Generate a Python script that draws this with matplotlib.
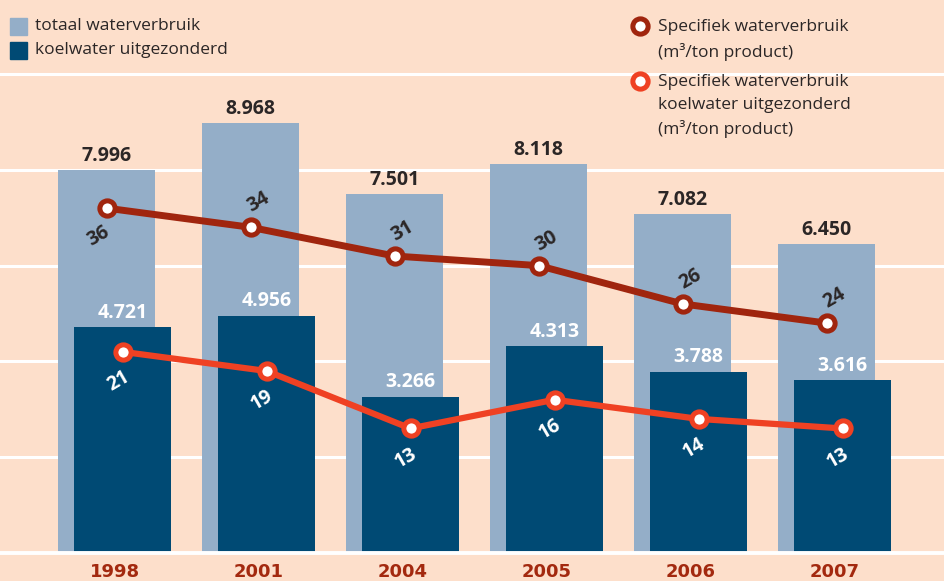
import matplotlib.pyplot as plt
import numpy as np

plt.rcParams['font.family'] = ['Open Sans', 'DejaVu Sans']

# data
years = ['1998', '2001', '2004', '2005', '2006', '2007']
totaal = [7996, 8968, 7501, 8118, 7082, 6450]
koel_uit = [4721, 4956, 3266, 4313, 3788, 3616]
spec_totaal = [36, 34, 31, 30, 26, 24]
spec_koel_uit = [21, 19, 13, 16, 14, 13]

totaal_labels = ['7.996', '8.968', '7.501', '8.118', '7.082', '6.450']
koel_labels = ['4.721', '4.956', '3.266', '4.313', '3.788', '3.616']

bg = '#fddfcb'
light_blue = '#94aec8'
dark_blue = '#004a74'
dark_red = '#a0250e'
orange = '#ef4123'
year_col = '#a3290f'
txt_col = '#2b2626'

fig = plt.figure(figsize=(9.44, 5.81), dpi=100, facecolor=bg)
ax = fig.add_axes([0, 28 / 581, 1, 553 / 581])
ax.set_facecolor(bg)

x = np.arange(len(years))
w = 97 / 144
off = 8 / 144

ax.set_xlim(-114.5 / 144, (944 - 114.5) / 144)
ymax = 553 / 0.0479
ax.set_ylim(0, ymax)

# white gridlines
for g in [2000, 4000, 6000, 8000, 10000]:
    ax.axhline(g, color='white', lw=2.2, zorder=1)
ax.axhline(0, color='white', lw=2.8, zorder=4, clip_on=False)

ax.bar(x - off, totaal, w, color=light_blue, zorder=2)
ax.bar(x + off, koel_uit, w, color=dark_blue, zorder=3)

for xi, v, lab in zip(x, totaal, totaal_labels):
    ax.annotate(lab, (xi - off, v), xytext=(0, 3), textcoords='offset points',
                ha='center', va='bottom', fontsize=14, fontweight='bold',
                color=txt_col, zorder=6)
for xi, v, lab in zip(x, koel_uit, koel_labels):
    ax.annotate(lab, (xi + off, v), xytext=(0, 3), textcoords='offset points',
                ha='center', va='bottom', fontsize=14, fontweight='bold',
                color='white', zorder=6)

for xi, lab in zip(x, years):
    ax.annotate(lab, (xi, 0), xytext=(0, -14), textcoords='offset points',
                ha='center', va='center', fontsize=13, fontweight='bold',
                color=year_col, family=['DejaVu Sans'],
                annotation_clip=False)

ax.set_xticks([])
ax.set_yticks([])
for s in ax.spines.values():
    s.set_visible(False)

# lines on twin axis (scale 1:200 relative to bars)
ax2 = ax.twinx()
ax2.set_ylim(0, ymax / 200)
ax2.set_xlim(ax.get_xlim())
ax2.axis('off')

ax2.plot(x - off, spec_totaal, color=dark_red, lw=5, marker='o', ms=11,
         mew=3.6, mfc='white', mec=dark_red, zorder=5)
ax2.plot(x + off, spec_koel_uit, color=orange, lw=4.5, marker='o', ms=11,
         mew=3.6, mfc='white', mec=orange, zorder=5)

for i, (xi, v) in enumerate(zip(x, spec_totaal)):
    dx, dy = (-6, -20) if i == 0 else (6, 18)
    ax2.annotate(str(v), (xi - off, v), xytext=(dx, dy), textcoords='offset points',
                 ha='center', va='center', fontsize=14, fontweight='bold',
                 color=txt_col, rotation=30, zorder=7)
for xi, v in zip(x, spec_koel_uit):
    ax2.annotate(str(v), (xi + off, v), xytext=(-3, -21), textcoords='offset points',
                 ha='center', va='center', fontsize=14, fontweight='bold',
                 color='white', rotation=30, zorder=7)

# legends
fig.patches.append(plt.Rectangle((10 / 944, 1 - 35 / 581), 17 / 944, 17 / 581,
                                 transform=fig.transFigure, color=light_blue))
fig.patches.append(plt.Rectangle((10 / 944, 1 - 59 / 581), 17 / 944, 17 / 581,
                                 transform=fig.transFigure, color=dark_blue))
fig.text(35 / 944, 1 - 26 / 581, 'totaal waterverbruik', fontsize=12.5,
         color=txt_col, va='center')
fig.text(35 / 944, 1 - 50 / 581, 'koelwater uitgezonderd', fontsize=12.5,
         color=txt_col, va='center')

fig.add_artist(plt.Line2D([640 / 944], [1 - 26 / 581], marker='o', ms=11,
                          mew=3.6, mfc='white', mec=dark_red,
                          transform=fig.transFigure))
fig.add_artist(plt.Line2D([640 / 944], [1 - 81 / 581], marker='o', ms=11,
                          mew=3.6, mfc='white', mec=orange,
                          transform=fig.transFigure))
fig.text(658 / 944, 1 - 19 / 581, 'Specifiek waterverbruik\n(m³/ton product)',
         fontsize=12.5, color=txt_col, va='top', linespacing=1.55)
fig.text(658 / 944, 1 - 74 / 581,
         'Specifiek waterverbruik\nkoelwater uitgezonderd\n(m³/ton product)',
         fontsize=12.5, color=txt_col, va='top', linespacing=1.55)

fig.savefig('out.png', dpi=100, facecolor=bg)
